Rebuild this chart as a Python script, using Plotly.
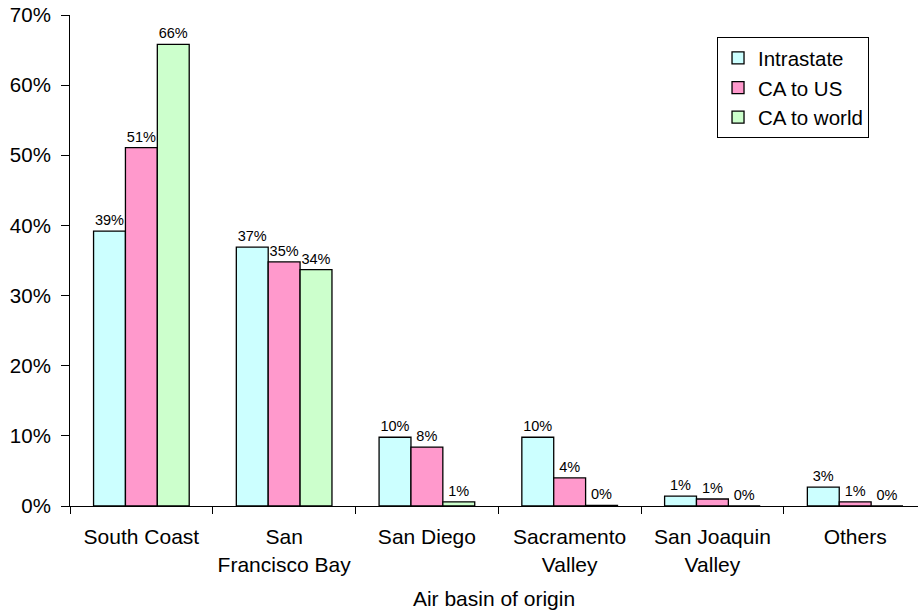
import plotly.graph_objects as go

# Share of emissions by air basin of origin
basins = ["South Coast", "San<br>Francisco Bay", "San Diego",
          "Sacramento<br>Valley", "San Joaquin<br>Valley", "Others"]
intrastate = [0.392, 0.369, 0.098, 0.098, 0.014, 0.027]
ca_to_us = [0.511, 0.348, 0.084, 0.040, 0.010, 0.006]
ca_to_world = [0.658, 0.337, 0.006, 0.001, 0.0, 0.0]
y_ticks = [0, 0.1, 0.2, 0.3, 0.4, 0.5, 0.6, 0.7]

FONT = "Liberation Sans, Arial, sans-serif"

series = [
    ("Intrastate", intrastate, "#CCFFFF"),
    ("CA to US", ca_to_us, "#FF99CC"),
    ("CA to world", ca_to_world, "#CCFFCC"),
]

fig = go.Figure()
for name, vals, color in series:
    fig.add_trace(go.Bar(
        name=name, x=basins, y=vals,
        marker=dict(color=color, line=dict(color="black", width=1.3)),
        text=vals, texttemplate="%{y:.0%}", textposition="outside",
        textfont=dict(family=FONT, size=14.5, color="black"),
        constraintext="none", cliponaxis=False,
    ))

fig.update_layout(
    width=918, height=613,
    margin=dict(l=70, r=0, t=15, b=107),
    paper_bgcolor="white", plot_bgcolor="white",
    barmode="group", bargap=0.33, bargroupgap=0,
    font=dict(family=FONT, size=21, color="black"),
    showlegend=True,
    legend=dict(
        x=0.763, y=0.955, xanchor="left", yanchor="top",
        bordercolor="black", borderwidth=1, bgcolor="white",
        font=dict(family=FONT, size=20.5),
        itemwidth=30,
    ),
    xaxis=dict(
        # the last category runs a little past the right edge of the frame
        range=[-0.5, 5.44],
        showline=True, linecolor="black", linewidth=1,
        ticks="outside", tickson="boundaries", ticklen=7, tickcolor="black",
        tickfont=dict(size=21), ticklabelstandoff=12,
        title=dict(text="Air basin of origin", font=dict(size=21), standoff=16),
    ),
    yaxis=dict(
        range=[0, 0.7], tickvals=y_ticks, tickformat=".0%",
        showline=True, linecolor="black", linewidth=1,
        ticks="outside", ticklen=8, tickcolor="black",
        showgrid=False, zeroline=False, tickfont=dict(size=20.5),
        ticklabelstandoff=6,
    ),
)

fig.write_html("out.html")
